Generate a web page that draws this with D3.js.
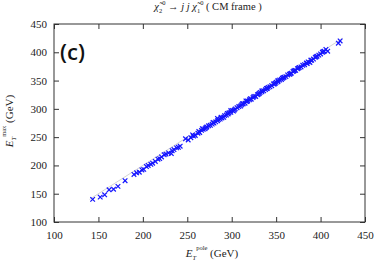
<!DOCTYPE html>
<html>
<head>
<meta charset="utf-8">
<script src="https://cdn.jsdelivr.net/npm/d3@7"></script>
<style>
  body { margin: 0; background: #fff; }
  svg { display: block; }
</style>
</head>
<body>
<div id="chart"></div>
<script>
// scatter of reconstructed vs pole transverse energy, panel (c)
var width = 374
var height = 261
var margin = {left: 54, right: 9, top: 24, bottom: 39}

var xTicks = [100, 150, 200, 250, 300, 350, 400, 450]
var yTicks = [100, 150, 200, 250, 300, 350, 400, 450]

// points (GeV)
var ePole = [143.5, 152, 157, 162, 167, 172, 180, 190, 193, 196, 199, 201, 204, 206, 209, 211,
             214, 217, 219, 221, 224, 226, 229, 232, 233, 235, 238, 240, 242,
             248, 251, 254, 257, 259, 262, 264, 266, 268, 270, 272, 274, 276, 278, 280,
             282, 284, 285, 287, 289, 291, 292, 294, 296, 297, 299, 301, 302, 304, 306,
             308, 310, 311, 313, 315, 317, 318, 320, 322, 324, 325, 327, 329, 331, 332,
             334, 336, 338, 340, 341, 343, 345, 347, 349, 350, 352, 354, 356, 358, 359,
             361, 363, 365, 367, 369, 370, 372, 374, 376, 378, 380, 382, 384, 386, 388,
             390, 392, 394, 396, 398, 400, 402, 404, 406, 408, 420, 422,
             263, 271, 279, 288, 295, 303, 312, 321, 330, 339, 348, 357, 366, 375, 385, 395,
             256, 267, 284, 299, 316, 334, 352, 371, 389, 403]
var eMax  = [140, 144, 148, 157, 158, 163, 173, 184, 187, 188, 192, 193, 198, 200, 202, 204,
             207, 211, 212, 215, 219, 220, 222, 221, 226, 228, 231, 232, 234,
             247, 245, 249, 252, 253, 257, 258, 262, 264, 265, 268, 270, 271, 273, 275,
             277, 279, 281, 282, 284, 285, 288, 289, 291, 293, 294, 297, 296, 300, 302,
             304, 305, 307, 309, 310, 313, 314, 316, 317, 320, 322, 322, 325, 327, 329,
             330, 332, 334, 336, 338, 339, 341, 344, 345, 347, 348, 351, 352, 355, 356,
             357, 360, 361, 363, 366, 367, 368, 371, 373, 374, 377, 378, 381, 383, 382,
             386, 388, 391, 393, 395, 397, 400, 402, 405, 402, 416, 420,
             260, 267, 276, 285, 292, 298, 309, 318, 326, 336, 344, 354, 362, 372, 380, 392,
             254, 265, 283, 297, 314, 332, 350, 368, 386, 401]

var points = ePole.map(function(d, i) { return {x: d, y: eMax[i]} })

var svg = d3.select("#chart").append("svg")
    .attr("width", width)
    .attr("height", height)

var x = d3.scaleLinear().domain([100, 450]).range([margin.left, width - margin.right])
var y = d3.scaleLinear().domain([100, 450]).range([height - margin.bottom, margin.top])

// diagonal guide y = x
svg.append("line")
    .attr("x1", x(140)).attr("y1", y(140))
    .attr("x2", x(425)).attr("y2", y(425))
    .style("stroke", "#c8c8c8")
    .style("stroke-width", 0.8)

// crosses
var s = 2.3
svg.selectAll(".pt")
    .data(points)
    .enter()
    .append("path")
    .attr("class", "pt")
    .attr("d", function(d) {
        var cx = x(d.x), cy = y(d.y)
        return "M" + (cx - s) + "," + (cy - s) + "L" + (cx + s) + "," + (cy + s) +
               "M" + (cx - s) + "," + (cy + s) + "L" + (cx + s) + "," + (cy - s)
    })
    .style("stroke", "#1414ff")
    .style("stroke-width", 1.2)
    .style("fill", "none")

// axes with inward ticks on all four sides
var tickFont = "Liberation Serif, Times New Roman, serif"
function styleAxis(g, noText) {
    g.select(".domain").remove()
    g.selectAll(".tick line").style("stroke", "#333")
    g.selectAll(".tick text")
        .style("font-family", tickFont)
        .style("font-size", "11px")
        .style("fill", "#222")
    if (noText) g.selectAll(".tick text").remove()
}

svg.append("g")
    .attr("transform", "translate(0," + (height - margin.bottom) + ")")
    .call(d3.axisBottom(x).tickValues(xTicks).tickSizeInner(-5).tickSizeOuter(0).tickPadding(9))
    .call(styleAxis)
svg.append("g")
    .attr("transform", "translate(0," + margin.top + ")")
    .call(d3.axisTop(x).tickValues(xTicks).tickSizeInner(-5).tickSizeOuter(0))
    .call(styleAxis, true)
svg.append("g")
    .attr("transform", "translate(" + margin.left + ",0)")
    .call(d3.axisLeft(y).tickValues(yTicks).tickSizeInner(-5).tickSizeOuter(0).tickPadding(7))
    .call(styleAxis)
svg.append("g")
    .attr("transform", "translate(" + (width - margin.right) + ",0)")
    .call(d3.axisRight(y).tickValues(yTicks).tickSizeInner(-5).tickSizeOuter(0))
    .call(styleAxis, true)

// frame
svg.append("rect")
    .attr("x", margin.left).attr("y", margin.top)
    .attr("width", width - margin.left - margin.right)
    .attr("height", height - margin.top - margin.bottom)
    .style("fill", "none")
    .style("stroke", "#333")
    .style("stroke-width", 1)

// title: chi2 -> j j chi1, sub and superscripts placed side by side so they don't collide
var title = svg.append("text")
    .attr("x", 208).attr("y", 10)
    .attr("text-anchor", "middle")
    .style("font-family", tickFont)
    .style("font-size", "10.5px")
    .style("fill", "#222")
title.append("tspan").style("font-style", "italic").text("χ̃")
title.append("tspan").attr("dy", 3).style("font-size", "6.5px").text("2")
title.append("tspan").attr("dy", -8).style("font-size", "6.5px").text("0")
title.append("tspan").attr("dy", 5).text(" → ")
title.append("tspan").style("font-style", "italic").text("j j χ̃")
title.append("tspan").attr("dy", 3).style("font-size", "6.5px").text("1")
title.append("tspan").attr("dy", -8).style("font-size", "6.5px").text("0")
title.append("tspan").attr("dy", 5).text(" ( CM frame )")

// x axis label
var xl = svg.append("text")
    .attr("x", 212).attr("y", 257)
    .attr("text-anchor", "middle")
    .style("font-family", tickFont)
    .style("font-size", "11px")
    .style("fill", "#222")
xl.append("tspan").style("font-style", "italic").text("E")
xl.append("tspan").attr("dy", 3).style("font-size", "6.5px").style("font-style", "italic").text("T")
xl.append("tspan").attr("dy", -10).style("font-size", "6.5px").text("pole")
xl.append("tspan").attr("dy", 7).text(" (GeV)")

// y axis label
var yl = svg.append("text")
    .attr("transform", "translate(13,121) rotate(-90)")
    .attr("text-anchor", "middle")
    .style("font-family", tickFont)
    .style("font-size", "11px")
    .style("fill", "#222")
yl.append("tspan").style("font-style", "italic").text("E")
yl.append("tspan").attr("dy", 3).style("font-size", "6.5px").style("font-style", "italic").text("T")
yl.append("tspan").attr("dy", -10).style("font-size", "6.5px").text("max")
yl.append("tspan").attr("dy", 7).text(" (GeV)")

// panel tag
svg.append("text")
    .attr("x", 60).attr("y", 60)
    .style("font-family", "Open Sans, Noto Sans, sans-serif")
    .style("font-size", "22px")
    .style("font-weight", "600")
    .style("fill", "#111")
    .text("(c)")
</script>
</body>
</html>
